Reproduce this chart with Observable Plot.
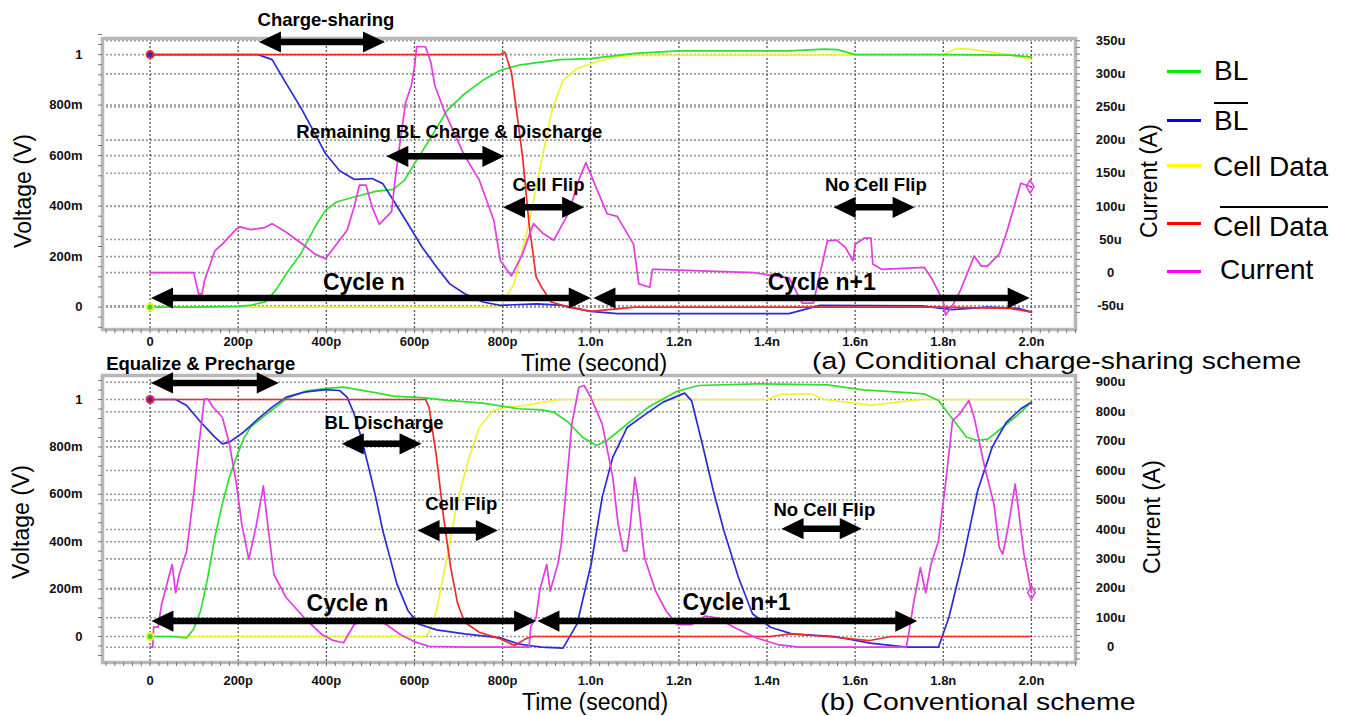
<!DOCTYPE html>
<html><head><meta charset="utf-8">
<script src="https://cdn.jsdelivr.net/npm/d3@7"></script>
<script src="https://cdn.jsdelivr.net/npm/@observablehq/plot@0.6"></script>
<style>
body{margin:0;background:#fff;font-family:"Liberation Sans",Arial,sans-serif;}
#root{position:relative;width:1345px;height:716px;overflow:hidden;background:#fff;}
.abs{position:absolute;white-space:nowrap;color:#000;}
</style></head><body><div id="root"></div>
<script>
// ---------- tick labels ----------
const xTicks = [0, 0.2, 0.4, 0.6, 0.8, 1.0, 1.2, 1.4, 1.6, 1.8, 2.0];
const xTickLabels = ["0", "200p", "400p", "600p", "800p", "1.0n", "1.2n", "1.4n", "1.6n", "1.8n", "2.0n"];
const vTicks = [0, 0.2, 0.4, 0.6, 0.8, 1];
const vTickLabels = ["0", "200m", "400m", "600m", "800m", "1"];
const topITicks = [-50, 0, 50, 100, 150, 200, 250, 300, 350];
const topITickLabels = ["-50u", "0", "50u", "100u", "150u", "200u", "250u", "300u", "350u"];
const botITicks = [0, 100, 200, 300, 400, 500, 600, 700, 800, 900];
const botITickLabels = ["0", "100u", "200u", "300u", "400u", "500u", "600u", "700u", "800u", "900u"];
const legendLabels = ["BL", "BL", "Cell Data", "Cell Data", "Current"];
const legendOverline = [false, true, false, true, false];

// ---------- (a) conditional charge-sharing: [time ns, volt] / [time ns, current uA] ----------
const topBL = [[0,0],[0.1,0],[0.2,0.003],[0.23,0.008],[0.261,0.02],[0.285,0.066],[0.309,0.132],[0.342,0.211],[0.374,0.317],[0.398,0.383],[0.423,0.416],[0.463,0.436],[0.512,0.458],[0.552,0.466],[0.577,0.502],[0.6,0.568],[0.633,0.66],[0.674,0.779],[0.714,0.845],[0.755,0.898],[0.795,0.938],[0.836,0.958],[0.93,0.98],[1.0,0.984],[1.1,1.005],[1.2,1.015],[1.45,1.015],[1.53,1.022],[1.56,1.02],[1.6,1.0],[1.8,1.0],[1.95,0.998],[2.0,0.99]];
const topBLB = [[0,1],[0.245,1],[0.277,0.98],[0.309,0.885],[0.342,0.79],[0.374,0.687],[0.398,0.608],[0.43,0.54],[0.463,0.506],[0.504,0.509],[0.528,0.489],[0.552,0.423],[0.585,0.33],[0.617,0.238],[0.65,0.159],[0.68,0.092],[0.714,0.053],[0.755,0.02],[0.795,0.007],[0.876,0.013],[0.93,0.008],[1.0,-0.017],[1.06,-0.026],[1.45,-0.026],[1.52,0.007],[1.75,0.005],[1.82,-0.01],[1.9,0.0],[1.97,-0.005],[2.0,-0.02]];
const topCD = [[0,0],[0.795,0],[0.826,0.092],[0.858,0.317],[0.89,0.594],[0.912,0.78],[0.937,0.898],[0.969,0.945],[1.0,0.964],[1.05,0.99],[1.1,0.997],[1.8,1.0],[1.83,1.024],[1.86,1.022],[1.95,1.0],[2.0,0.98]];
const topCDB = [[0,1],[0.795,1],[0.805,1.01],[0.82,0.93],[0.845,0.6],[0.86,0.33],[0.876,0.12],[0.888,0.08],[0.91,0.02],[0.95,0.0],[1.0,-0.017],[1.1,0.0],[1.8,0.0],[1.95,-0.005],[2.0,-0.02]];
const topI = [[0,0],[0.099,0],[0.11,-32],[0.118,-32],[0.123,-13],[0.147,33],[0.164,43],[0.196,66],[0.204,69],[0.228,65],[0.26,68],[0.277,74],[0.309,61],[0.35,41],[0.374,28],[0.398,21],[0.423,43],[0.447,64],[0.463,99],[0.475,132],[0.49,132],[0.504,99],[0.52,73],[0.548,92],[0.556,140],[0.568,201],[0.58,257],[0.593,283],[0.6,311],[0.605,341],[0.625,341],[0.637,318],[0.646,283],[0.666,247],[0.69,211],[0.714,176],[0.747,140],[0.78,79],[0.795,18],[0.82,-5],[0.845,28],[0.87,74],[0.892,59],[0.916,49],[0.949,89],[0.973,140],[0.989,166],[1.005,140],[1.037,89],[1.06,85],[1.097,43],[1.109,-17],[1.134,-22],[1.14,5],[1.15,5],[1.369,0],[1.45,-8],[1.48,-46],[1.505,-46],[1.537,48],[1.558,49],[1.578,38],[1.595,18],[1.6,43],[1.62,52],[1.636,52],[1.64,13],[1.66,5],[1.757,8],[1.773,-8],[1.8,-43],[1.805,-64],[1.82,-51],[1.838,-28],[1.87,25],[1.886,10],[1.9,10],[1.927,28],[1.943,59],[1.976,135],[1.997,130]];

// ---------- (b) conventional ----------
const botBL = [[0,0],[0.05,0],[0.083,-0.006],[0.099,0.032],[0.115,0.11],[0.131,0.25],[0.147,0.419],[0.164,0.56],[0.18,0.672],[0.196,0.757],[0.212,0.834],[0.228,0.883],[0.26,0.932],[0.309,1.003],[0.358,1.038],[0.406,1.048],[0.439,1.052],[0.504,1.031],[0.552,1.014],[0.625,1.007],[0.674,0.996],[0.755,0.985],[0.836,0.961],[0.888,0.956],[0.916,0.947],[0.949,0.904],[0.981,0.841],[1.013,0.806],[1.037,0.827],[1.083,0.897],[1.131,0.968],[1.196,1.035],[1.245,1.059],[1.375,1.066],[1.537,1.062],[1.618,1.041],[1.7,1.031],[1.756,1.024],[1.789,0.996],[1.821,0.918],[1.853,0.841],[1.878,0.827],[1.902,0.834],[1.935,0.883],[1.967,0.932],[2.0,0.989]];
const botBLB = [[0,1],[0.058,1.0],[0.083,0.975],[0.115,0.904],[0.147,0.841],[0.164,0.813],[0.18,0.82],[0.212,0.862],[0.245,0.918],[0.277,0.968],[0.309,1.01],[0.35,1.031],[0.398,1.042],[0.43,1.038],[0.447,1.01],[0.463,0.94],[0.479,0.841],[0.496,0.714],[0.512,0.588],[0.528,0.447],[0.544,0.335],[0.56,0.222],[0.585,0.11],[0.609,0.053],[0.65,0.028],[0.714,0.011],[0.795,-0.006],[0.835,-0.031],[0.86,-0.038],[0.888,-0.045],[0.937,-0.049],[0.969,0.053],[1.001,0.307],[1.026,0.588],[1.05,0.757],[1.083,0.883],[1.131,0.947],[1.164,0.989],[1.213,1.027],[1.229,0.994],[1.253,0.813],[1.278,0.616],[1.302,0.447],[1.335,0.25],[1.367,0.096],[1.408,0.039],[1.456,0.011],[1.553,0.0],[1.634,-0.028],[1.717,-0.045],[1.789,-0.045],[1.813,0.082],[1.846,0.335],[1.878,0.616],[1.911,0.799],[1.943,0.904],[1.976,0.961],[2.0,0.989]];
const botCD = [[0,0],[0.625,0],[0.633,0.018],[0.65,0.11],[0.674,0.335],[0.698,0.574],[0.722,0.743],[0.747,0.883],[0.779,0.954],[0.811,0.968],[0.852,0.975],[0.892,0.989],[0.93,1.0],[1.4,1.0],[1.43,1.022],[1.5,1.024],[1.53,1.0],[1.6,0.985],[1.634,0.975],[1.7,0.99],[1.75,1.0],[2.0,1.0]];
const botCDB = [[0,1],[0.625,1],[0.633,0.968],[0.65,0.757],[0.666,0.504],[0.682,0.293],[0.698,0.138],[0.714,0.06],[0.747,0.018],[0.795,-0.01],[0.827,-0.038],[0.852,-0.01],[0.868,0],[1.406,0],[1.455,0.011],[1.536,0],[1.633,-0.017],[1.682,0],[2.0,0]];
const botI = [[0,0],[0.006,0],[0.008,68],[0.018,68],[0.026,145],[0.038,213],[0.05,281],[0.058,185],[0.066,247],[0.083,327],[0.099,520],[0.111,690],[0.123,843],[0.131,843],[0.143,815],[0.164,781],[0.18,690],[0.196,554],[0.208,418],[0.224,299],[0.24,406],[0.257,548],[0.265,440],[0.281,247],[0.309,168],[0.35,100],[0.39,43],[0.415,23],[0.439,15],[0.463,77],[0.496,100],[0.536,77],[0.568,43],[0.601,18],[0.633,3],[0.714,0],[0.86,0],[0.864,71],[0.876,100],[0.884,191],[0.9,281],[0.908,191],[0.925,281],[0.933,350],[0.957,758],[0.973,883],[0.985,889],[1.0,849],[1.026,758],[1.05,577],[1.062,418],[1.074,327],[1.082,327],[1.09,418],[1.1,577],[1.106,520],[1.122,304],[1.147,191],[1.171,123],[1.196,77],[1.229,77],[1.26,106],[1.286,100],[1.327,66],[1.375,32],[1.424,9],[1.472,0],[1.716,0],[1.72,32],[1.732,145],[1.748,270],[1.76,185],[1.772,281],[1.789,361],[1.805,554],[1.821,770],[1.837,792],[1.858,838],[1.87,781],[1.894,611],[1.915,486],[1.927,338],[1.935,316],[1.947,406],[1.963,554],[1.97,474],[1.983,316],[2.0,185]];

// ---------- annotations (time ns, volt) ----------
const topArrows = [{t1:0.247,t2:0.533,v:1.050},{t1:0.536,t2:0.804,v:0.597},{t1:0.801,t2:0.985,v:0.395},{t1:1.551,t2:1.735,v:0.395},{t1:0.002,t2:1.0,v:0.036},{t1:1.006,t2:1.996,v:0.036}];
const topNotes = [{t:0.399,v:1.136,text:"Charge-sharing"},{t:0.679,v:0.694,text:"Remaining BL Charge & Discharge"},{t:0.904,v:0.485,text:"Cell Flip"},{t:1.647,v:0.485,text:"No Cell Flip"}];
const topCycles = [{t:0.485,v:0.095,text:"Cycle n"},{t:1.524,v:0.095,text:"Cycle n+1"}];
const botArrows = [{t1:0.002,t2:0.292,v:1.070},{t1:0.435,t2:0.616,v:0.813},{t1:0.607,t2:0.789,v:0.447},{t1:1.433,t2:1.615,v:0.455},{t1:0.003,t2:0.876,v:0.065},{t1:0.879,t2:1.741,v:0.065}];
const botNotes = [{t:0.115,v:1.148,text:"Equalize & Precharge"},{t:0.531,v:0.900,text:"BL Discharge"},{t:0.706,v:0.56,text:"Cell Flip"},{t:1.53,v:0.532,text:"No Cell Flip"}];
const botCycles = [{t:0.448,v:0.138,text:"Cycle n"},{t:1.331,v:0.145,text:"Cycle n+1"}];

// ---------- styles ----------
const FONT = "'Liberation Sans', Arial, Helvetica, sans-serif";
const COL = {BL:"#2ee02e", BLB:"#2b2bd6", CD:"#f2f234", CDB:"#f02a2a", I:"#e23ce2"};
const LEGCOL = ["#00ee00", "#0000ff", "#ffff00", "#ff0000", "#ff00ff"];

const headRight = {draw(ctx, size){ const L = Math.sqrt(size); ctx.moveTo(0,0); ctx.lineTo(-L,-0.48*L); ctx.lineTo(-L,0.48*L); ctx.closePath(); }};
const headLeft = {draw(ctx, size){ const L = Math.sqrt(size); ctx.moveTo(0,0); ctx.lineTo(L,-0.48*L); ctx.lineTo(L,0.48*L); ctx.closePath(); }};
const HEAD_R = 22 / Math.sqrt(Math.PI);

function lookup(ticks, labels) {
  return d => { const i = ticks.findIndex(t => Math.abs(t - d) < 1e-9); return i < 0 ? "" : labels[i]; };
}

function makePanel(c) {
  const X = d => d[0], Y = d => d[1], IY = d => c.toV(d[1]);
  const iPos = c.iTicks.map(c.toV);
  const minorI = d3.range(c.iMinor[0], c.iMinor[1] + 1e-9, c.iMinor[2]).map(c.toV);
  const grid = {strokeOpacity: 1, strokeWidth: 1.6, strokeDasharray: "2,2"};
  const bold = {fontSize: 13, fontWeight: "bold", fill: "#111", label: null};
  return Plot.plot({
    width: 1345, height: c.height,
    marginLeft: 102, marginRight: 270, marginTop: c.mt, marginBottom: c.mb,
    x: {domain: [-0.108, 2.1]},
    y: {domain: c.yDomain},
    style: {fontFamily: FONT, background: "transparent", overflow: "visible"},
    marks: [
      Plot.gridY(vTicks, {...grid, stroke: "#9a9a9a"}),
      Plot.gridY(iPos, {...grid, stroke: "#9a9a9a"}),
      Plot.gridX(xTicks, {...grid, stroke: "#555", strokeWidth: 1.3}),
      Plot.frame({stroke: "#b8b8b8", strokeWidth: 3.5}),
      Plot.axisX(d3.range(-0.1, 2.1001, 0.02), {tickSize: 4, tickFormat: () => "", stroke: "#777", label: null}),
      Plot.axisY(d3.range(-0.08, 1.1, 0.04), {anchor: "left", tickSize: 4, tickFormat: () => "", stroke: "#777", label: null}),
      Plot.axisY(minorI, {anchor: "right", tickSize: 4, tickFormat: () => "", stroke: "#777", label: null}),
      Plot.axisX(xTicks, {...bold, tickSize: 0, tickPadding: c.xPad, tickFormat: lookup(xTicks, xTickLabels)}),
      Plot.axisY(vTicks, {...bold, anchor: "left", tickSize: 0, tickPadding: 20, tickFormat: lookup(vTicks, vTickLabels)}),
      Plot.axisY(iPos, {...bold, anchor: "right", tickSize: 0, tickPadding: 35, textAnchor: "middle", tickFormat: lookup(iPos, c.iLabels)}),
      Plot.line(c.CD, {x: X, y: Y, stroke: COL.CD, strokeWidth: 1.7, clip: true}),
      Plot.line(c.BL, {x: X, y: Y, stroke: COL.BL, strokeWidth: 1.7, clip: true}),
      Plot.line(c.BLB, {x: X, y: Y, stroke: COL.BLB, strokeWidth: 1.7, clip: true}),
      Plot.line(c.CDB, {x: X, y: Y, stroke: COL.CDB, strokeWidth: 1.7, clip: true}),
      Plot.line(c.I, {x: X, y: IY, stroke: COL.I, strokeWidth: 1.7, clip: true}),
      Plot.dot([c.CDB[0]], {x: X, y: Y, r: 4.5, fill: COL.CDB}),
      Plot.dot([c.BLB[0]], {x: X, y: Y, r: 2.5, fill: COL.BLB}),
      Plot.dot([c.CD[0]], {x: X, y: Y, r: 4.5, fill: COL.CD}),
      Plot.dot([c.BL[0]], {x: X, y: Y, r: 2.5, fill: COL.BL}),
      Plot.dot([c.I[c.I.length - 1]], {x: X, y: IY, r: 4, symbol: "diamond", stroke: COL.I, strokeWidth: 1.5, fill: "none"}),
      Plot.arrow(c.arrows, {x1: "t1", x2: "t2", y1: "v", y2: "v", stroke: "#000", strokeWidth: 6.5, headLength: 0, inset: 14, strokeLinecap: "butt"}),
      Plot.dot(c.arrows, {x: "t2", y: "v", symbol: headRight, r: HEAD_R, fill: "#000", stroke: "none"}),
      Plot.dot(c.arrows, {x: "t1", y: "v", symbol: headLeft, r: HEAD_R, fill: "#000", stroke: "none"}),
      Plot.text(c.notes, {x: "t", y: "v", text: "text", fontSize: 18.5, fontWeight: "bold", fill: "#000"}),
      Plot.text(c.cycles, {x: "t", y: "v", text: "text", fontSize: 23, fontWeight: "bold", fill: "#000"})
    ]
  });
}

const root = document.getElementById("root");
function place(node, top) {
  const d = document.createElement("div");
  d.className = "abs"; d.style.left = "0px"; d.style.top = top + "px";
  d.appendChild(node); root.appendChild(d);
}
function label(txt, x, y, o = {}) {
  const el = document.createElement("div");
  el.className = "abs"; el.textContent = txt;
  el.style.left = x + "px"; el.style.top = y + "px";
  el.style.fontSize = (o.size || 23) + "px"; el.style.lineHeight = o.lh || "0.8";
  el.style.fontWeight = o.weight || "normal";
  root.appendChild(el);
  const tx = o.anchor === "start" ? "0" : o.anchor === "end" ? "-100%" : "-50%";
  let tf = `translate(${tx},-50%)`;
  if (o.rotate) tf += ` rotate(${o.rotate}deg)`;
  if (o.fitWidth) { el.style.transformOrigin = "0 50%"; tf += ` scaleX(${o.fitWidth / el.offsetWidth})`; }
  el.style.transform = tf;
}
function bar(x, y, w, h, color) {
  const el = document.createElement("div");
  el.className = "abs";
  Object.assign(el.style, {left: x + "px", top: y + "px", width: w + "px", height: h + "px", background: color});
  root.appendChild(el);
}

// top panel: frame 38..329 px
const topToV = i => (34.4 + 0.662 * i) / 252.3;
place(makePanel({height: 350, mt: 38, mb: 21, yDomain: [-0.0888, 1.0638], toV: topToV,
  iTicks: topITicks, iLabels: topITickLabels, iMinor: [-60, 350, 10], xPad: 7,
  BL: topBL, BLB: topBLB, CD: topCD, CDB: topCDB, I: topI,
  arrows: topArrows, notes: topNotes, cycles: topCycles}), 0);

// bottom panel: frame 375..662 px (SVG at 350)
const botToV = i => (-10.7 + 0.2944 * i) / 237;
place(makePanel({height: 366, mt: 25, mb: 54, yDomain: [-0.1097, 1.1013], toV: botToV,
  iTicks: botITicks, iLabels: botITickLabels, iMinor: [-40, 900, 20], xPad: 13,
  BL: botBL, BLB: botBLB, CD: botCD, CDB: botCDB, I: botI,
  arrows: botArrows, notes: botNotes, cycles: botCycles}), 350);

// axis titles and captions
label("Voltage (V)", 22.5, 191, {rotate: -90});
label("Current (A)", 1148.5, 181, {rotate: -90});
label("Voltage (V)", 21, 522, {rotate: -90});
label("Current (A)", 1152, 517, {rotate: -90});
label("Time (second)", 594, 362.5);
label("Time (second)", 595, 702);
label("(a) Conditional charge-sharing scheme", 812, 361, {size: 24.5, anchor: "start", lh: "0.7", fitWidth: 489});
label("(b) Conventional scheme", 820, 701.5, {size: 24.5, anchor: "start", lh: "0.7", fitWidth: 315});

// legend
const legY = [71, 120.7, 165.7, 223.3, 271.7];
const legTextY = [71, 121, 166.7, 226.7, 269.5];
const legTextX = [1214, 1214, 1213, 1213, 1220];
legendLabels.forEach((t, i) => {
  bar(1167, legY[i] - 1.5, 34, 3, LEGCOL[i]);
  label(t, legTextX[i], legTextY[i], {size: 28, anchor: "start", lh: "0.85"});
});
bar(1214, 101.5, 34, 2.8, "#000");
bar(1220, 205.5, 108, 2.8, "#000");
</script></body></html>
